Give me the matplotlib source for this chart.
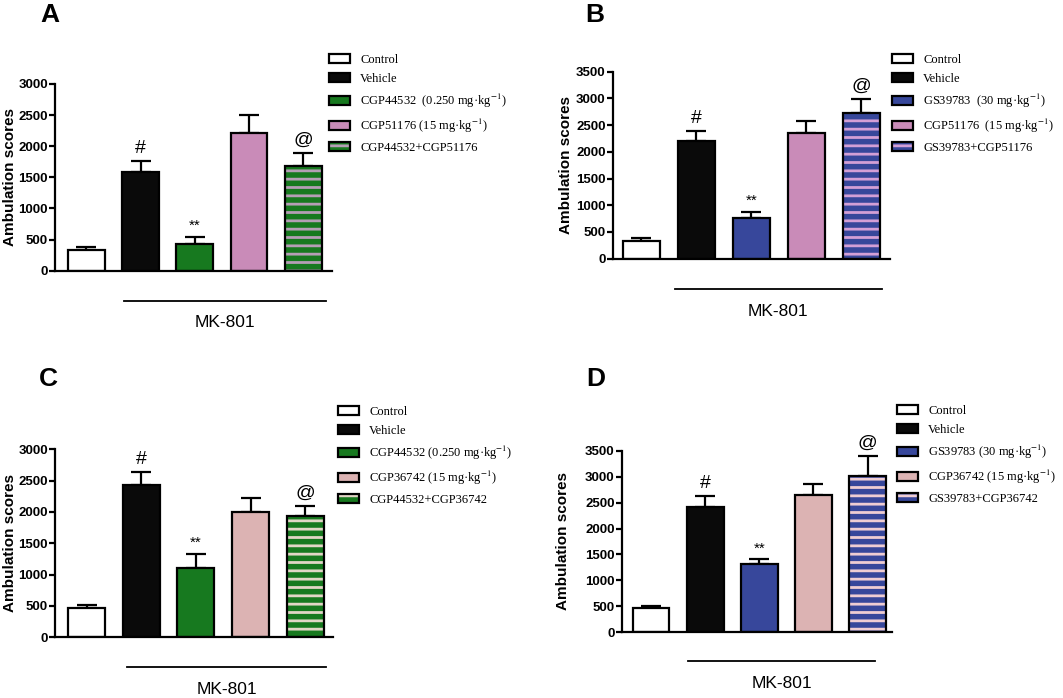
import numpy as np
import matplotlib
matplotlib.use('Agg')
import matplotlib.pyplot as plt
from matplotlib.patches import Patch

plt.rcParams['font.family'] = ['Liberation Sans', 'DejaVu Sans']
plt.rcParams['mathtext.fontset'] = 'stix'
plt.rcParams['hatch.linewidth'] = 2.0

# ---- data ----
labels_a = ['Control', 'Vehicle', 'CGP44532  (0.250 mg·kg$^{-1}$)',
            'CGP51176 (15 mg·kg$^{-1}$)', 'CGP44532+CGP51176']
means_a = [330, 1590, 430, 2210, 1690]
errs_a = [52, 172, 112, 299, 200]

labels_b = ['Control', 'Vehicle', 'GS39783  (30 mg·kg$^{-1}$)',
            'CGP51176  (15 mg·kg$^{-1}$)', 'GS39783+CGP51176']
means_b = [337, 2203, 768, 2359, 2721]
errs_b = [50, 182, 106, 212, 274]

labels_c = ['Control', 'Vehicle', 'CGP44532 (0.250 mg·kg$^{-1}$)',
            'CGP36742 (15 mg·kg$^{-1}$)', 'CGP44532+CGP36742']
means_c = [463, 2435, 1106, 2000, 1936]
errs_c = [48, 198, 228, 229, 160]

labels_d = ['Control', 'Vehicle', 'GS39783 (30 mg·kg$^{-1}$)',
            'CGP36742 (15 mg·kg$^{-1}$)', 'GS39783+CGP36742']
means_d = [462, 2423, 1321, 2647, 3006]
errs_d = [51, 205, 83, 218, 385]

marks = ['', '#', '**', '', '@']

GREEN = '#17791f'
BLUE = '#37479b'
PINK = '#c98bb8'
ROSE = '#dcb3b3'


def draw_panel(rect, letter, letter_xy, means, errs, labels, colors, stripe,
               ymax, xlim, mk_span, leg_xy, ypad=2):
    ax = fig.add_axes(rect)
    x = np.arange(len(means))
    w = 0.68
    for i in range(len(means)):
        if i == len(means) - 1:
            ax.bar(x[i], means[i], w, color=colors[i], edgecolor=stripe,
                   hatch='--', linewidth=0, zorder=2)
        else:
            ax.bar(x[i], means[i], w, color=colors[i], linewidth=0, zorder=2)
    ax.bar(x, means, w, fill=False, edgecolor='black', linewidth=1.6, zorder=3)
    ax.errorbar(x, means, yerr=[np.zeros(len(errs)), errs], fmt='none',
                ecolor='black', elinewidth=1.6, capsize=7, capthick=1.6, zorder=1)
    for i, m in enumerate(marks):
        if m:
            fs = 11 if m == '**' else 14
            ax.annotate(m, (x[i], means[i] + errs[i]), xytext=(0, 3),
                        textcoords='offset points', ha='center', va='bottom',
                        fontsize=fs)

    ax.set_xlim(*xlim)
    ax.set_ylim(0, ymax)
    ax.spines['top'].set_visible(False)
    ax.spines['right'].set_visible(False)
    ax.spines['left'].set_linewidth(1.6)
    ax.spines['bottom'].set_linewidth(1.6)
    ax.set_xticks([])
    ax.set_yticks(np.arange(0, ymax + 1, 500))
    ax.tick_params(axis='y', direction='out', length=4, width=1.6, labelsize=9.5, pad=1)
    for t in ax.get_yticklabels():
        t.set_fontweight('bold')
    ax.set_ylabel('Ambulation scores', fontsize=11, fontweight='bold', labelpad=ypad)

    # MK-801 bracket line
    ax.plot(mk_span, [-0.16, -0.16], color='black', lw=1.3,
            transform=ax.get_xaxis_transform(), clip_on=False)
    ax.text(np.mean(mk_span), -0.28, 'MK-801', fontsize=12.5, ha='center',
            va='center', transform=ax.get_xaxis_transform())

    fig.text(letter_xy[0], letter_xy[1], letter, fontsize=19, fontweight='bold',
             ha='center', va='center')

    handles = []
    for i in range(len(means)):
        if i == len(means) - 1:
            handles.append((Patch(facecolor=colors[i], edgecolor=stripe, hatch='--', linewidth=0),
                            Patch(fill=False, edgecolor='black', linewidth=1.6)))
        else:
            handles.append(Patch(facecolor=colors[i], edgecolor='black', linewidth=1.6))
    fig.legend(handles, labels, loc='upper left', bbox_to_anchor=leg_xy,
               frameon=False, borderpad=0, borderaxespad=0, handlelength=1.65,
               handleheight=0.75, handletextpad=0.85, labelspacing=0.56,
               prop={'family': 'Liberation Serif', 'size': 9})
    return ax


W, H = 1063.0, 698.0
fig = plt.figure(figsize=(10.63, 6.98), dpi=100)


def r(left, right, bottom, top):
    return [left / W, 1 - bottom / H, (right - left) / W, (bottom - top) / H]


draw_panel(r(55, 332, 270.7, 84), 'A', (50 / W, 1 - 15 / H), means_a, errs_a, labels_a,
           ['white', '#0a0a0a', GREEN, PINK, GREEN], '#b59eb5', 3000,
           (-0.58, 4.53), [0.69, 4.42], (329 / W, 1 - 54 / H), ypad=1)
draw_panel(r(612.7, 890, 258.7, 71.7), 'B', (595 / W, 1 - 15 / H), means_b, errs_b, labels_b,
           ['white', '#0a0a0a', BLUE, PINK, BLUE], '#d39fd6', 3500,
           (-0.52, 4.52), [0.61, 4.37], (892 / W, 1 - 54 / H))
draw_panel(r(55, 333, 637.3, 449.3), 'C', (48 / W, 1 - 379 / H), means_c, errs_c, labels_c,
           ['white', '#0a0a0a', GREEN, ROSE, GREEN], '#e2d6c6', 3000,
           (-0.58, 4.51), [0.74, 4.39], (338 / W, 1 - 406 / H), ypad=1)
draw_panel(r(621.7, 892, 632.3, 450.7), 'D', (596 / W, 1 - 379 / H), means_d, errs_d, labels_d,
           ['white', '#0a0a0a', BLUE, ROSE, BLUE], '#efcdd3', 3500,
           (-0.54, 4.45), [0.68, 4.14], (897 / W, 1 - 405 / H), ypad=11)

fig.savefig('out.png', dpi=100)
